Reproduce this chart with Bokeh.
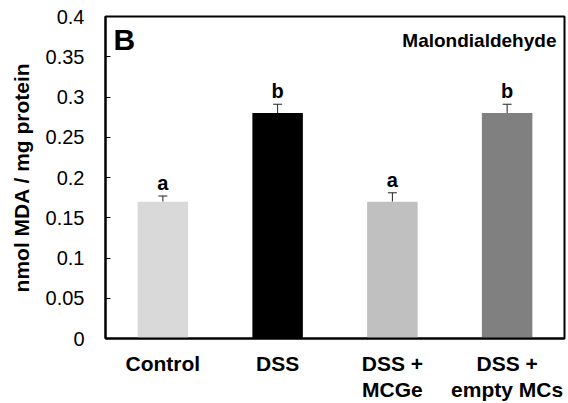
from bokeh.plotting import figure
from bokeh.models import Range1d, FixedTicker, ColumnDataSource, Whisker, TeeHead, Label
from bokeh.core.properties import value
from bokeh.embed import file_html
from bokeh.resources import INLINE

# Data
groups = ["Control", "DSS", "DSS +\nMCGe", "DSS +\nempty MCs"]
mda = [0.17, 0.28, 0.17, 0.28]
sem = [0.007, 0.011, 0.011, 0.011]
letters = ["a", "b", "a", "b"]
bar_colors = ["#d9d9d9", "#000000", "#c0c0c0", "#808080"]
y_ticks = [0, 0.05, 0.1, 0.15, 0.2, 0.25, 0.3, 0.35, 0.4]
y_tick_labels = ["0", "0.05", "0.1", "0.15", "0.2", "0.25", "0.3", "0.35", "0.4"]

FONT = "Liberation Sans"

xs = list(range(1, len(groups) + 1))
tops = [m + e for m, e in zip(mda, sem)]
src = ColumnDataSource(dict(x=xs, top=mda, upper=tops, color=bar_colors,
                            letter=letters, ly=[t + 0.016 for t in tops]))

p = figure(width=568, height=403, output_backend="svg", toolbar_location=None,
           x_range=Range1d(0.5, 4.5), y_range=Range1d(0, 0.4),
           min_border_left=105, min_border_right=4, min_border_top=16,
           min_border_bottom=61)

p.vbar(x="x", top="top", width=0.44, bottom=0, fill_color="color",
       line_color=None, source=src)

p.add_layout(Whisker(base="x", upper="upper", lower="top", source=src,
                     line_color="#222222", line_width=1,
                     lower_head=None,
                     upper_head=TeeHead(size=9, line_color="#222222", line_width=1)))

p.text(x="x", y="ly", text="letter", source=src, text_align="center",
       text_baseline="alphabetic", text_font=value(FONT), text_font_style="bold",
       text_font_size="20px", text_color="#000000")

p.add_layout(Label(x=0.57, y=0.392, text="B", text_font=FONT,
                   text_font_style="bold", text_font_size="30px",
                   text_baseline="top", text_color="#000000"))
p.add_layout(Label(x=4.43, y=0.37, text="Malondialdehyde", text_font=FONT,
                   text_font_style="bold", text_font_size="19px",
                   text_align="right", text_baseline="middle",
                   text_color="#000000"))

p.xgrid.visible = False
p.ygrid.visible = False
p.outline_line_color = "#000000"
p.outline_line_width = 2
p.outline_line_alpha = 1

xa = p.xaxis[0]
xa.ticker = FixedTicker(ticks=xs)
xa.major_label_overrides = {x: g for x, g in zip(xs, groups)}
xa.major_tick_in = 0
xa.major_tick_out = 0
xa.minor_tick_line_color = None
xa.axis_line_width = 2
xa.axis_line_color = "#000000"
xa.major_label_text_font = FONT
xa.major_label_text_font_style = "bold"
xa.major_label_text_font_size = "21px"
xa.major_label_text_color = "#000000"
xa.major_label_text_line_height = 1.15
xa.major_label_standoff = 13

ya = p.yaxis[0]
ya.ticker = FixedTicker(ticks=y_ticks)
ya.major_label_overrides = {t: s for t, s in zip(y_ticks, y_tick_labels)}
ya.major_tick_in = 5
ya.major_tick_out = 0
ya.major_tick_line_color = "#000000"
ya.minor_tick_line_color = None
ya.axis_line_width = 2
ya.axis_line_color = "#000000"
ya.major_label_text_font = FONT
ya.major_label_text_font_size = "20px"
ya.major_label_text_color = "#000000"
ya.major_label_standoff = 21
ya.axis_label = "nmol MDA / mg protein"
ya.axis_label_text_font = FONT
ya.axis_label_text_font_style = "bold"
ya.axis_label_text_font_size = "21px"
ya.axis_label_text_color = "#000000"
ya.axis_label_standoff = 10

open("out.html", "w").write(file_html(p, INLINE))
